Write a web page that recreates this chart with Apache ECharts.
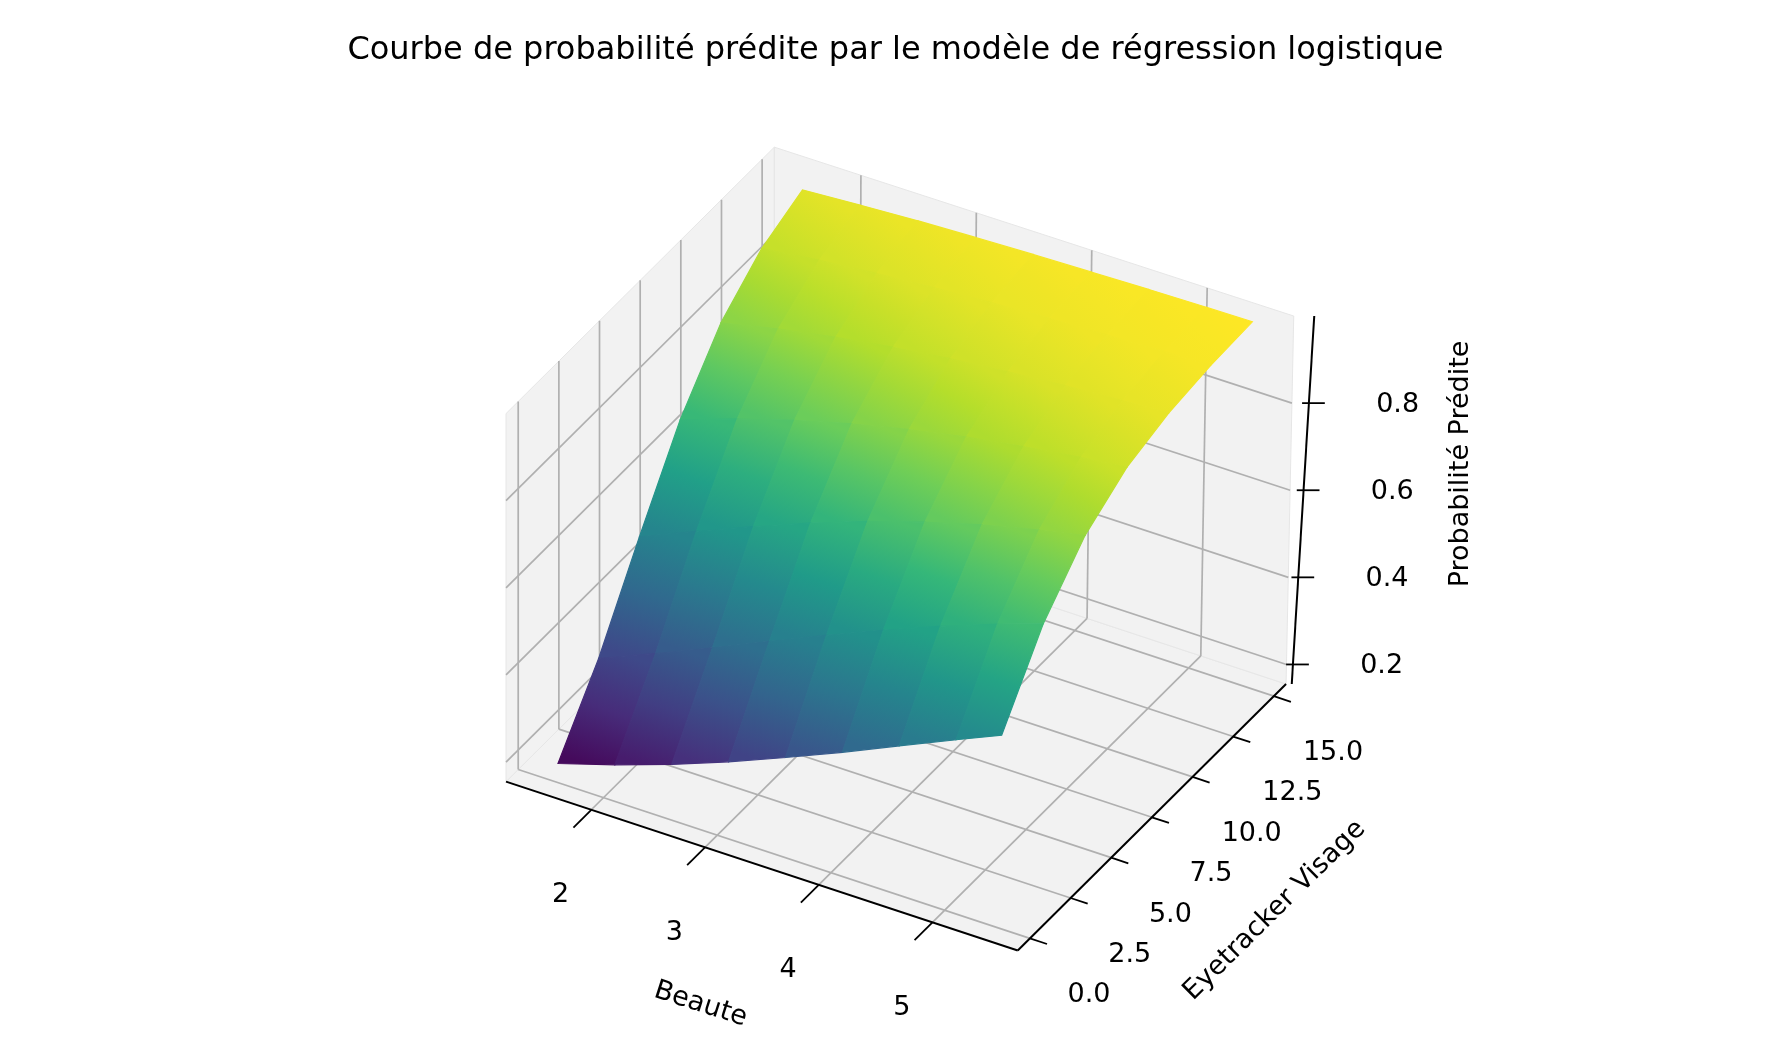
<!DOCTYPE html>
<html><head><meta charset="utf-8">
<script src="https://cdn.jsdelivr.net/npm/echarts@6/dist/echarts.min.js"></script>
<style>html,body{margin:0;padding:0;background:#fff}#c{width:1774px;height:1055px}</style>
</head><body><div id="c"></div>
<script>
// ---- data ----
const beaute = [1.6, 2.1, 2.6, 3.1, 3.6, 4.1, 4.6, 5.1, 5.5];
const eyetracker = [0, 2.5, 5, 7.5, 10, 12.5, 15];
const prob = [
  [0.199,0.348,0.534,0.710,0.840,0.918,0.960],
  [0.239,0.402,0.590,0.755,0.869,0.934,0.968],
  [0.283,0.458,0.644,0.795,0.893,0.947,0.975],
  [0.332,0.516,0.695,0.830,0.913,0.957,0.980],
  [0.385,0.573,0.742,0.860,0.930,0.966,0.984],
  [0.440,0.628,0.783,0.886,0.943,0.973,0.987],
  [0.498,0.680,0.820,0.907,0.954,0.978,0.990],
  [0.555,0.728,0.851,0.925,0.963,0.983,0.992],
  [0.600,0.763,0.873,0.937,0.969,0.985,0.993]
];
const beauteTicks = [2, 3, 4, 5];
const eyeTicks = [0, 2.5, 5, 7.5, 10, 12.5, 15];
const zTicks = [0.2, 0.4, 0.6, 0.8];
const title = 'Courbe de probabilité prédite par le modèle de régression logistique';

const S = 1774/1560;
const B0=1.25,B1=5.75,E0=-0.75,E1=15.75,Z0=0.155,Z1=1.0;
function proj(b,e,z){
  const x=330.7+100*b+14.3*e+(z-Z0)*8*(b-B0)/(B1-B0)*((e-E0)/(E1-E0));
  const y=694.8+33*b-14.2*e-383*z;
  return [x*S,y*S];
}
const viridis=['#440154','#482878','#3e4989','#31688e','#26828e','#1f9e89','#35b779','#6ece58','#b5de2b','#fde725'];
const ZMIN=0.199,ZMAX=0.993;
function hex(c){return [1,3,5].map(k=>parseInt(c.substr(k,2),16));}
function cmap(z){
  let t=Math.max(0,Math.min(1,(z-ZMIN)/(ZMAX-ZMIN)))*(viridis.length-1);
  const k=Math.min(viridis.length-2,Math.floor(t)),f=t-k;
  const a=hex(viridis[k]),b=hex(viridis[k+1]);
  return 'rgb('+a.map((v,i)=>Math.round(v+(b[i]-v)*f)).join(',')+')';
}

const cells=[];
for(let i=0;i<beaute.length-1;i++)for(let j=0;j<eyetracker.length-1;j++){
  const d=(eyetracker[j]+eyetracker[j+1])/2/16.5-(beaute[i]+beaute[i+1])/2/4.5;
  cells.push([i,j,d]);
}
cells.sort((a,b)=>b[2]-a[2]);

const gridLines=[];
beauteTicks.forEach(b=>{gridLines.push([[b,E0,Z0],[b,E1,Z0]]);gridLines.push([[b,E1,Z0],[b,E1,Z1]]);});
eyeTicks.forEach(e=>{gridLines.push([[B0,e,Z0],[B1,e,Z0]]);gridLines.push([[B0,e,Z0],[B0,e,Z1]]);});
zTicks.forEach(z=>{gridLines.push([[B0,E0,z],[B0,E1,z]]);gridLines.push([[B0,E1,z],[B1,E1,z]]);});
const panes=[
  [[B0,E0,Z0],[B1,E0,Z0],[B1,E1,Z0],[B0,E1,Z0]],
  [[B0,E0,Z0],[B0,E1,Z0],[B0,E1,Z1],[B0,E0,Z1]],
  [[B0,E1,Z0],[B1,E1,Z0],[B1,E1,Z1],[B0,E1,Z1]]
];

const chart=echarts.init(document.getElementById('c'));
function C(api,p){return api.coord(proj(p[0],p[1],p[2]));}
const font='"DejaVu Sans", sans-serif';
chart.setOption({
  animation:false,
  title:{text:title,left:783*S,top:30,textAlign:'center',textStyle:{fontFamily:font,fontSize:32,fontWeight:'normal',color:'#000'}},
  grid:{left:0,right:0,top:0,bottom:0},
  xAxis:{type:'value',min:0,max:1774,show:false},
  yAxis:{type:'value',min:0,max:1055,inverse:true,show:false},
  series:[
    {type:'custom',data:panes.map((p,i)=>[i]),renderItem:(params,api)=>{
      const p=panes[api.value(0)];
      return {type:'polygon',shape:{points:p.map(v=>C(api,v))},style:{fill:'#f2f2f2',stroke:'#e6e6e6',lineWidth:1}};
    }},
    {type:'custom',data:gridLines.map((l,i)=>[i]),renderItem:(params,api)=>{
      const l=gridLines[api.value(0)];
      const a=C(api,l[0]),b=C(api,l[1]);
      return {type:'line',shape:{x1:a[0],y1:a[1],x2:b[0],y2:b[1]},style:{stroke:'#b0b0b0',lineWidth:1.7}};
    }},
    {type:'custom',data:cells,renderItem:(params,api)=>{
      const i=api.value(0),j=api.value(1);
      const pts=[[i,j],[i+1,j],[i+1,j+1],[i,j+1]].map(([a,b])=>C(api,[beaute[a],eyetracker[b],prob[a][b]]));
      const zb=(prob[i][j]+prob[i+1][j])/2, zt=(prob[i][j+1]+prob[i+1][j+1])/2;
      const pb=[(pts[0][0]+pts[1][0])/2,(pts[0][1]+pts[1][1])/2];
      const pt=[(pts[2][0]+pts[3][0])/2,(pts[2][1]+pts[3][1])/2];
      const grad=new echarts.graphic.LinearGradient(pb[0],pb[1],pt[0],pt[1],[
        {offset:0,color:cmap(zb)},{offset:0.5,color:cmap((zb+zt)/2)},{offset:1,color:cmap(zt)}],true);
      return {type:'polygon',shape:{points:pts},style:{fill:grad,stroke:grad,lineWidth:1.2}};
    }},
    {type:'custom',data:[[0]],renderItem:(params,api)=>{
      const ch=[];
      const L=(a,b,w)=>ch.push({type:'line',shape:{x1:a[0],y1:a[1],x2:b[0],y2:b[1]},style:{stroke:'#000',lineWidth:w||2}});
      const T=(t,p,opt)=>ch.push({type:'text',x:p[0],y:p[1],rotation:opt.rot||0,style:{text:t,font:(opt.size||27)+'px '+font,fill:'#000',align:'center',verticalAlign:'middle'}});
      L(C(api,[B0,E0,Z0]),C(api,[B1,E0,Z0]));
      beauteTicks.forEach(b=>{const a=C(api,[b,E0,Z0]),c=C(api,[b,E0-1.1,Z0]);L(a,c,1.8);T(String(b),[a[0]-27*S,a[1]+75*S],{});});
      (()=>{const a=C(api,[3.1,E0,Z0]);T('Beaute',[a[0]-14*S,a[1]+135*S],{rot:-0.31});})();
      L(C(api,[B1,E0,Z0]),C(api,[B1,E1,Z0]));
      eyeTicks.forEach(e=>{const a=C(api,[B1,e,Z0]),c=C(api,[B1+0.15,e,Z0]);L(a,c,1.8);T(e.toFixed(1),[a[0]+52*S,a[1]+50*S],{});});
      (()=>{const a=C(api,[B1,7.5,Z0]);T('Eyetracker Visage',[a[0]+108*S,a[1]+82*S],{rot:0.78});})();
      const zb=C(api,[B1,E1,Z0]),zt=C(api,[B1,E1,Z1]);
      L([zb[0]+5*S,zb[1]],[zt[0]+18*S,zt[1]]);
      zTicks.forEach(z=>{const a=C(api,[B1,E1,z]);const x=a[0]+(5+13*(z-Z0)/(Z1-Z0))*S;L([x-6*S,a[1]],[x+14*S,a[1]],1.8);T(z.toFixed(1),[x+78*S,a[1]+2],{});});
      T('Probabilité Prédite',[1285*S,408*S],{rot:Math.PI/2});
      return {type:'group',children:ch};
    }}
  ]
});
</script></body></html>
